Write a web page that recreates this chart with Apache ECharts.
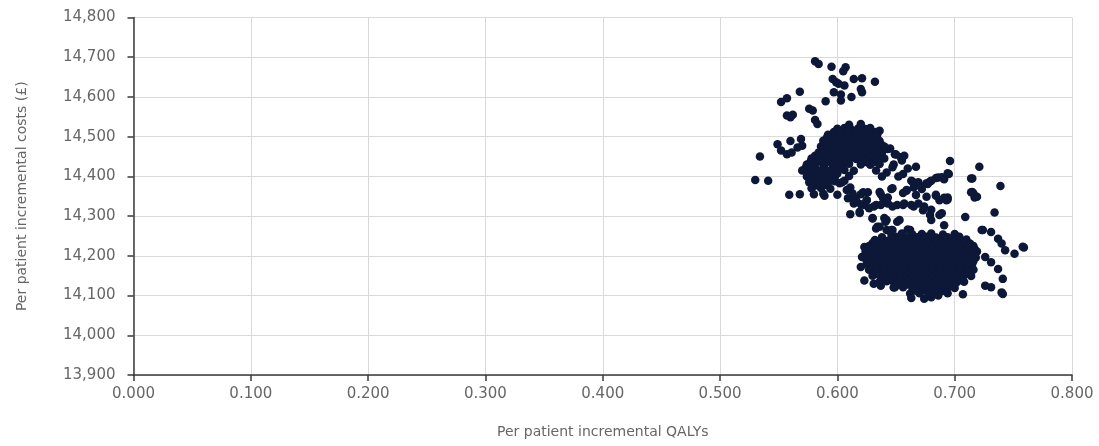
<!DOCTYPE html>
<html>
<head>
<meta charset="utf-8">
<script src="https://cdn.jsdelivr.net/npm/echarts@6/dist/echarts.min.js"></script>
<style>html,body{margin:0;padding:0;background:#fff;}#chart{width:1099px;height:446px;}</style>
</head>
<body>
<div id="chart"></div>
<script>
// Axis settings
const xTicks = { min: 0, max: 0.8, interval: 0.1 };
const yTicks = { min: 13900, max: 14800, interval: 100 };
const xTitle = 'Per patient incremental QALYs';
const yTitle = 'Per patient incremental costs (£)';

// Outlying / sparse points [QALYs, cost]
const sparsePoints = [
  [0.581,14690],[0.584,14683],[0.595,14676],[0.607,14675],[0.605,14665],
  [0.596,14645],[0.599,14637],[0.601,14633],[0.606,14629],[0.614,14645],[0.621,14647],
  [0.632,14638],[0.620,14620],[0.621,14612],[0.612,14600],[0.597,14612],[0.603,14606],
  [0.603,14591],[0.590,14589],[0.568,14613],[0.557,14597],[0.552,14587],
  [0.576,14570],[0.579,14566],[0.557,14553],[0.560,14549],[0.562,14555],
  [0.581,14542],[0.583,14532],[0.636,14515],
  [0.549,14481],[0.552,14465],[0.557,14456],[0.561,14460],[0.566,14473],[0.569,14494],
  [0.570,14477],[0.560,14489],[0.534,14450],[0.530,14391],[0.541,14389],
  [0.559,14354],[0.568,14355],[0.589,14351],
  [0.643,14469],[0.649,14456],[0.654,14448],[0.657,14452],[0.647,14423],[0.667,14424],[0.656,14406],
  [0.696,14439],[0.695,14406],[0.721,14424],[0.715,14395],[0.739,14376],[0.714,14360],[0.717,14347],
  [0.686,14397],[0.691,14393],[0.680,14389],[0.677,14381],[0.669,14385],[0.663,14389],
  [0.665,14372],[0.672,14368],[0.646,14368],[0.637,14355],[0.643,14347],[0.659,14364],
  [0.684,14351],[0.694,14347],[0.606,14389],[0.611,14372],[0.620,14355],[0.626,14360],[0.614,14347],
  [0.611,14305],[0.619,14308],[0.609,14345],[0.614,14332],[0.623,14328],[0.631,14324],
  [0.637,14328],[0.643,14332],[0.651,14328],[0.657,14332],[0.663,14328],[0.669,14332],
  [0.674,14324],[0.680,14316],[0.684,14354],[0.691,14346],[0.694,14342],
  [0.630,14294],[0.634,14273],[0.641,14286],[0.651,14286],[0.646,14265],[0.660,14266],
  [0.689,14307],[0.691,14277],[0.709,14298],[0.734,14309],[0.716,14357],[0.719,14349],
  [0.723,14265],[0.731,14260],[0.737,14243],[0.740,14231],[0.743,14214],[0.751,14205],[0.759,14221],
  [0.726,14197],[0.731,14184],[0.737,14167],[0.741,14142],
  [0.726,14125],[0.731,14121],[0.740,14108],[0.741,14104],[0.707,14103],
  [0.663,14094],[0.674,14092],[0.680,14096],[0.686,14100],
  [0.623,14138],[0.631,14130],[0.637,14125],[0.649,14121],[0.620,14172],[0.621,14197],[0.623,14222],
  [0.714,14395],[0.715,14361],[0.718,14349],[0.694,14408],[0.689,14398],[0.684,14396],
  [0.679,14387],[0.676,14383],[0.670,14378],[0.664,14387],
  [0.647,14370],[0.659,14366],[0.656,14358],[0.667,14353],[0.676,14349],[0.693,14340],[0.687,14340],
  [0.636,14361],[0.639,14345],[0.633,14328],[0.642,14333],[0.647,14324],[0.656,14328],
  [0.665,14324],[0.673,14315],[0.679,14303],[0.687,14303],[0.680,14290],
  [0.630,14295],[0.640,14295],[0.653,14290],[0.636,14273],[0.647,14265],[0.662,14265],
  [0.724,14265],[0.758,14223],[0.622,14360],[0.625,14340],[0.620,14330],[0.627,14320],
  [0.645,14470],[0.650,14455],[0.655,14440],[0.648,14430],[0.660,14420],[0.642,14410],
  [0.652,14400],[0.638,14400],[0.633,14415],[0.619,14311],[0.633,14269],[0.642,14290],[0.642,14265],
  [0.602,14383],[0.608,14366],[0.613,14357],[0.616,14340],[0.625,14340]
];

// Dense upper cluster [QALYs, cost]
const upperCluster = [
  [0.600,14520],[0.606,14522],[0.612,14518],[0.618,14521],[0.624,14519],[0.628,14522],[0.620,14532],[0.610,14530],
  [0.597,14512],[0.603,14513],[0.609,14511],[0.615,14512],[0.621,14513],[0.627,14511],[0.633,14512],
  [0.592,14505],[0.598,14507],[0.604,14504],[0.610,14506],[0.616,14505],[0.622,14503],[0.628,14507],[0.634,14505],
  [0.591,14497],[0.597,14498],[0.603,14496],[0.609,14497],[0.615,14498],[0.621,14496],[0.627,14497],[0.633,14498],
  [0.588,14490],[0.594,14491],[0.600,14489],[0.606,14490],[0.612,14492],[0.618,14489],[0.624,14490],[0.630,14491],[0.636,14489],
  [0.589,14482],[0.595,14483],[0.601,14481],[0.607,14482],[0.613,14483],[0.619,14481],[0.625,14482],[0.631,14483],[0.637,14481],
  [0.586,14475],[0.592,14476],[0.598,14474],[0.604,14475],[0.610,14477],[0.616,14474],[0.622,14475],[0.628,14476],[0.634,14474],[0.640,14475],
  [0.587,14467],[0.593,14468],[0.599,14466],[0.605,14467],[0.611,14468],[0.617,14466],[0.623,14467],[0.629,14468],[0.635,14466],
  [0.584,14460],[0.590,14461],[0.596,14459],[0.602,14460],[0.608,14462],[0.614,14461],[0.620,14459],[0.626,14460],[0.632,14461],[0.638,14459],
  [0.581,14452],[0.587,14453],[0.593,14451],[0.599,14452],[0.605,14453],[0.611,14451],[0.619,14452],[0.625,14453],[0.631,14451],[0.637,14452],
  [0.578,14445],[0.584,14446],[0.590,14444],[0.596,14445],[0.604,14446],[0.610,14444],[0.616,14444],[0.622,14445],[0.628,14446],[0.634,14444],[0.640,14445],
  [0.577,14437],[0.583,14438],[0.591,14436],[0.599,14437],[0.607,14438],[0.624,14436],[0.632,14437],
  [0.574,14430],[0.580,14431],[0.588,14429],[0.596,14430],[0.602,14431],[0.610,14432],[0.620,14430],[0.628,14429],[0.636,14431],
  [0.573,14422],[0.581,14423],[0.589,14421],[0.597,14422],[0.604,14423],
  [0.570,14415],[0.578,14416],[0.586,14414],[0.594,14415],[0.600,14417],[0.606,14416],[0.614,14414],
  [0.576,14407],[0.584,14408],[0.592,14406],[0.600,14407],
  [0.574,14400],[0.582,14401],[0.590,14399],[0.598,14400],[0.610,14401],
  [0.579,14392],[0.587,14393],[0.595,14391],
  [0.576,14385],[0.584,14386],[0.592,14384],[0.598,14388],[0.604,14385],
  [0.581,14377],[0.589,14378],
  [0.578,14370],[0.586,14371],[0.594,14369],
  [0.580,14355],[0.588,14356],[0.600,14354]
];

// Dense lower cluster [QALYs, cost]
const lowerCluster = [
  [0.646,14255],[0.655,14256],[0.664,14254],[0.672,14255],[0.680,14256],[0.690,14254],[0.700,14255],
  [0.638,14247],[0.650,14248],[0.659,14246],[0.668,14247],[0.676,14248],[0.684,14246],[0.694,14247],[0.704,14248],
  [0.632,14240],[0.638,14241],[0.644,14239],[0.650,14240],[0.656,14241],[0.662,14239],[0.668,14240],
  [0.674,14241],[0.680,14239],[0.686,14240],[0.692,14241],[0.698,14239],[0.704,14240],[0.710,14241],
  [0.630,14232],[0.636,14233],[0.642,14231],[0.648,14232],[0.654,14233],[0.660,14231],[0.666,14232],[0.672,14233],
  [0.678,14231],[0.684,14232],[0.690,14233],[0.696,14231],[0.702,14232],[0.708,14233],[0.713,14231],
  [0.627,14225],[0.633,14226],[0.639,14224],[0.645,14225],[0.651,14226],[0.657,14224],[0.663,14225],
  [0.669,14226],[0.675,14224],[0.681,14225],[0.687,14226],[0.693,14224],[0.699,14225],[0.705,14226],[0.711,14224],[0.716,14225],
  [0.627,14217],[0.633,14218],[0.639,14216],[0.645,14217],[0.651,14218],[0.657,14216],[0.663,14217],[0.669,14218],
  [0.675,14216],[0.681,14217],[0.687,14218],[0.693,14216],[0.699,14217],[0.705,14218],[0.711,14216],[0.717,14217],
  [0.624,14210],[0.630,14211],[0.636,14209],[0.642,14210],[0.648,14211],[0.654,14209],[0.660,14210],
  [0.666,14211],[0.672,14209],[0.678,14210],[0.684,14211],[0.690,14209],[0.696,14210],[0.702,14211],[0.708,14209],[0.714,14210],[0.719,14211],
  [0.626,14202],[0.632,14203],[0.638,14201],[0.644,14202],[0.650,14203],[0.656,14201],[0.662,14202],[0.668,14203],
  [0.674,14201],[0.680,14202],[0.686,14203],[0.692,14201],[0.698,14202],[0.704,14203],[0.710,14201],[0.716,14202],
  [0.623,14195],[0.629,14196],[0.635,14194],[0.641,14195],[0.647,14196],[0.653,14194],[0.659,14195],
  [0.665,14196],[0.671,14194],[0.677,14195],[0.683,14196],[0.689,14194],[0.695,14195],[0.701,14196],[0.707,14194],[0.713,14195],[0.718,14196],
  [0.626,14187],[0.632,14188],[0.638,14186],[0.644,14187],[0.650,14188],[0.656,14186],[0.662,14187],[0.668,14188],
  [0.674,14186],[0.680,14187],[0.686,14188],[0.692,14186],[0.698,14187],[0.704,14188],[0.710,14186],[0.716,14187],
  [0.625,14180],[0.631,14181],[0.637,14179],[0.643,14180],[0.649,14181],[0.655,14179],[0.661,14180],
  [0.667,14181],[0.673,14179],[0.679,14180],[0.685,14181],[0.691,14179],[0.697,14180],[0.703,14181],[0.709,14179],[0.715,14180],
  [0.628,14172],[0.634,14173],[0.640,14171],[0.646,14172],[0.652,14173],[0.658,14171],[0.664,14172],[0.670,14173],
  [0.676,14171],[0.682,14172],[0.688,14173],[0.694,14171],[0.700,14172],[0.706,14173],[0.712,14171],
  [0.627,14165],[0.633,14166],[0.639,14164],[0.645,14165],[0.651,14166],[0.657,14164],[0.663,14165],
  [0.669,14166],[0.675,14164],[0.681,14165],[0.687,14166],[0.693,14164],[0.699,14165],[0.705,14166],[0.711,14164],[0.716,14165],
  [0.633,14157],[0.639,14158],[0.645,14156],[0.651,14157],[0.657,14158],[0.663,14156],[0.669,14157],
  [0.675,14158],[0.681,14156],[0.687,14157],[0.693,14158],[0.699,14156],[0.705,14157],[0.711,14158],
  [0.630,14150],[0.636,14151],[0.642,14149],[0.648,14150],[0.654,14151],[0.660,14149],[0.666,14150],
  [0.672,14151],[0.678,14149],[0.684,14150],[0.690,14151],[0.696,14149],[0.702,14150],[0.708,14151],[0.714,14149],
  [0.639,14142],[0.645,14143],[0.651,14141],[0.657,14142],[0.663,14143],[0.669,14141],
  [0.675,14142],[0.681,14143],[0.687,14141],[0.693,14142],[0.699,14143],[0.705,14141],
  [0.636,14135],[0.642,14136],[0.648,14134],[0.654,14135],[0.660,14136],[0.666,14134],[0.672,14135],
  [0.678,14136],[0.684,14134],[0.690,14135],[0.696,14136],[0.702,14134],[0.708,14135],
  [0.652,14127],[0.660,14128],[0.667,14126],[0.673,14127],[0.679,14128],[0.685,14126],[0.691,14127],[0.697,14128],
  [0.648,14120],[0.656,14121],[0.664,14119],[0.670,14120],[0.676,14121],[0.682,14119],[0.688,14120],[0.694,14121],[0.700,14119],
  [0.667,14112],[0.674,14113],[0.682,14111],[0.690,14112],
  [0.662,14105],[0.670,14106],[0.678,14104],[0.686,14105],[0.694,14106]
];

const chart = echarts.init(document.getElementById('chart'), null, { renderer: 'canvas' });
const labelFont = { color: '#666666', fontFamily: 'DejaVu Sans', fontSize: 15 };
const seriesStyle = { type: 'scatter', symbol: 'circle', symbolSize: 8.5, itemStyle: { color: '#0d1838', opacity: 1 }, silent: true };
chart.setOption({
  animation: false,
  backgroundColor: '#ffffff',
  grid: { left: 133.5, right: 27, top: 17.5, bottom: 71, containLabel: false },
  xAxis: {
    type: 'value', min: xTicks.min, max: xTicks.max, interval: xTicks.interval,
    name: xTitle, nameLocation: 'middle', nameGap: 50,
    nameTextStyle: { color: '#666666', fontFamily: 'DejaVu Sans', fontSize: 14 },
    axisLine: { show: true, onZero: false, lineStyle: { color: '#3a3a3a', width: 1.5 } },
    axisTick: { show: true, inside: false, length: 6, lineStyle: { color: '#3a3a3a', width: 1.5 } },
    axisLabel: Object.assign({ margin: 12, formatter: v => v.toFixed(3) }, labelFont),
    splitLine: { show: true, lineStyle: { color: '#d9d9d9', width: 1 } }
  },
  yAxis: {
    type: 'value', min: yTicks.min, max: yTicks.max, interval: yTicks.interval,
    name: yTitle, nameLocation: 'middle', nameGap: 104,
    nameTextStyle: { color: '#666666', fontFamily: 'DejaVu Sans', fontSize: 14 },
    axisLine: { show: true, onZero: false, lineStyle: { color: '#3a3a3a', width: 1.5 } },
    axisTick: { show: true, inside: false, length: 6, lineStyle: { color: '#3a3a3a', width: 1.5 } },
    axisLabel: Object.assign({ margin: 18, formatter: v => v.toLocaleString('en-US') }, labelFont),
    splitLine: { show: true, lineStyle: { color: '#d9d9d9', width: 1 } }
  },
  series: [
    Object.assign({ name: 'sparse', data: sparsePoints }, seriesStyle),
    Object.assign({ name: 'upper', data: upperCluster }, seriesStyle),
    Object.assign({ name: 'lower', data: lowerCluster }, seriesStyle)
  ]
});
</script>
</body>
</html>
